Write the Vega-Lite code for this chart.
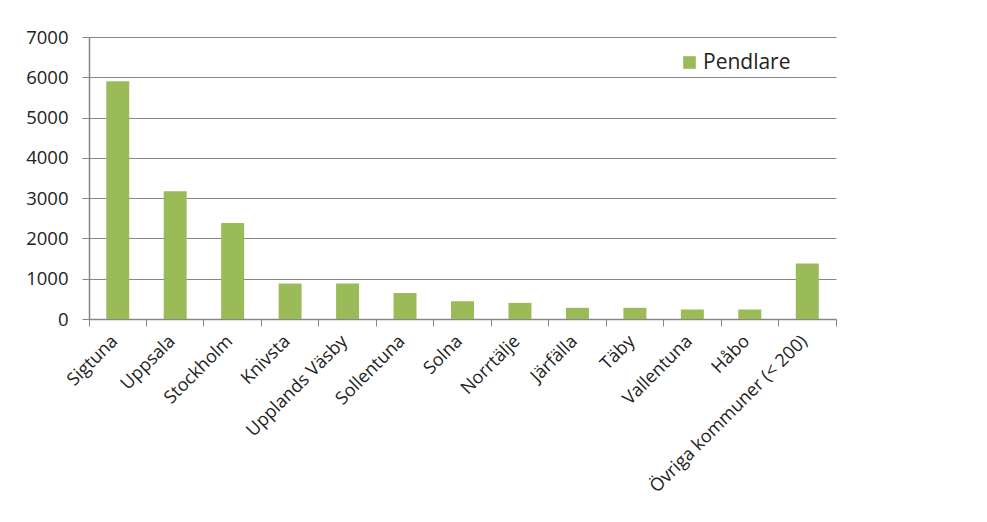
{
  "$schema": "https://vega.github.io/schema/vega-lite/v6.json",
  "autosize": {"type": "none"},
  "padding": {"left": 89, "top": 37, "right": 151, "bottom": 203},
  "width": 747,
  "height": 282,
  "background": "white",
  "data": {
    "values": [
      {"kommun": "Sigtuna", "pendlare": 5900, "serie": "Pendlare"},
      {"kommun": "Uppsala", "pendlare": 3170, "serie": "Pendlare"},
      {"kommun": "Stockholm", "pendlare": 2385, "serie": "Pendlare"},
      {"kommun": "Knivsta", "pendlare": 880, "serie": "Pendlare"},
      {"kommun": "Upplands Väsby", "pendlare": 880, "serie": "Pendlare"},
      {"kommun": "Sollentuna", "pendlare": 645, "serie": "Pendlare"},
      {"kommun": "Solna", "pendlare": 440, "serie": "Pendlare"},
      {"kommun": "Norrtälje", "pendlare": 400, "serie": "Pendlare"},
      {"kommun": "Järfälla", "pendlare": 278, "serie": "Pendlare"},
      {"kommun": "Täby", "pendlare": 278, "serie": "Pendlare"},
      {"kommun": "Vallentuna", "pendlare": 236, "serie": "Pendlare"},
      {"kommun": "Håbo", "pendlare": 236, "serie": "Pendlare"},
      {"kommun": "Övriga kommuner (< 200)", "pendlare": 1380, "serie": "Pendlare"}
    ]
  },
  "mark": {"type": "bar", "width": {"band": 0.4}},
  "encoding": {
    "x": {
      "field": "kommun",
      "type": "nominal",
      "sort": null,
      "scale": {"paddingInner": 0, "paddingOuter": 0},
      "axis": {
        "title": null,
        "labelAngle": -45,
        "labelFont": "Open Sans",
        "labelFontSize": 18,
        "labelColor": "#222222",
        "labelPadding": 6,
        "bandPosition": 1,
        "tickExtra": true,
        "labelOffset": -9,
        "tickSize": 7,
        "tickColor": "#868686",
        "domainColor": "#868686",
        "labelOverlap": false,
        "labelLimit": 0
      }
    },
    "y": {
      "field": "pendlare",
      "type": "quantitative",
      "scale": {"domain": [0, 7000], "nice": false},
      "axis": {
        "title": null,
        "values": [0, 1000, 2000, 3000, 4000, 5000, 6000, 7000],
        "labelFont": "Open Sans",
        "labelFontSize": 18.5,
        "labelColor": "#222222",
        "labelPadding": 14,
        "tickSize": 7,
        "tickColor": "#868686",
        "domainColor": "#868686",
        "gridColor": "#868686",
        "gridOpacity": 1,
        "format": "d"
      }
    },
    "color": {
      "field": "serie",
      "type": "nominal",
      "scale": {"range": ["#9BBB59"]},
      "legend": {
        "title": null,
        "orient": "none",
        "legendX": 590,
        "legendY": 15,
        "symbolType": "square",
        "symbolSize": 160,
        "symbolStrokeWidth": 0,
        "labelOffset": 3,
        "labelFont": "Open Sans",
        "labelFontSize": 21,
        "labelColor": "#222222"
      }
    }
  },
  "config": {
    "view": {"stroke": null},
    "axis": {"domainWidth": 1.5, "gridWidth": 1.2}
  }
}
